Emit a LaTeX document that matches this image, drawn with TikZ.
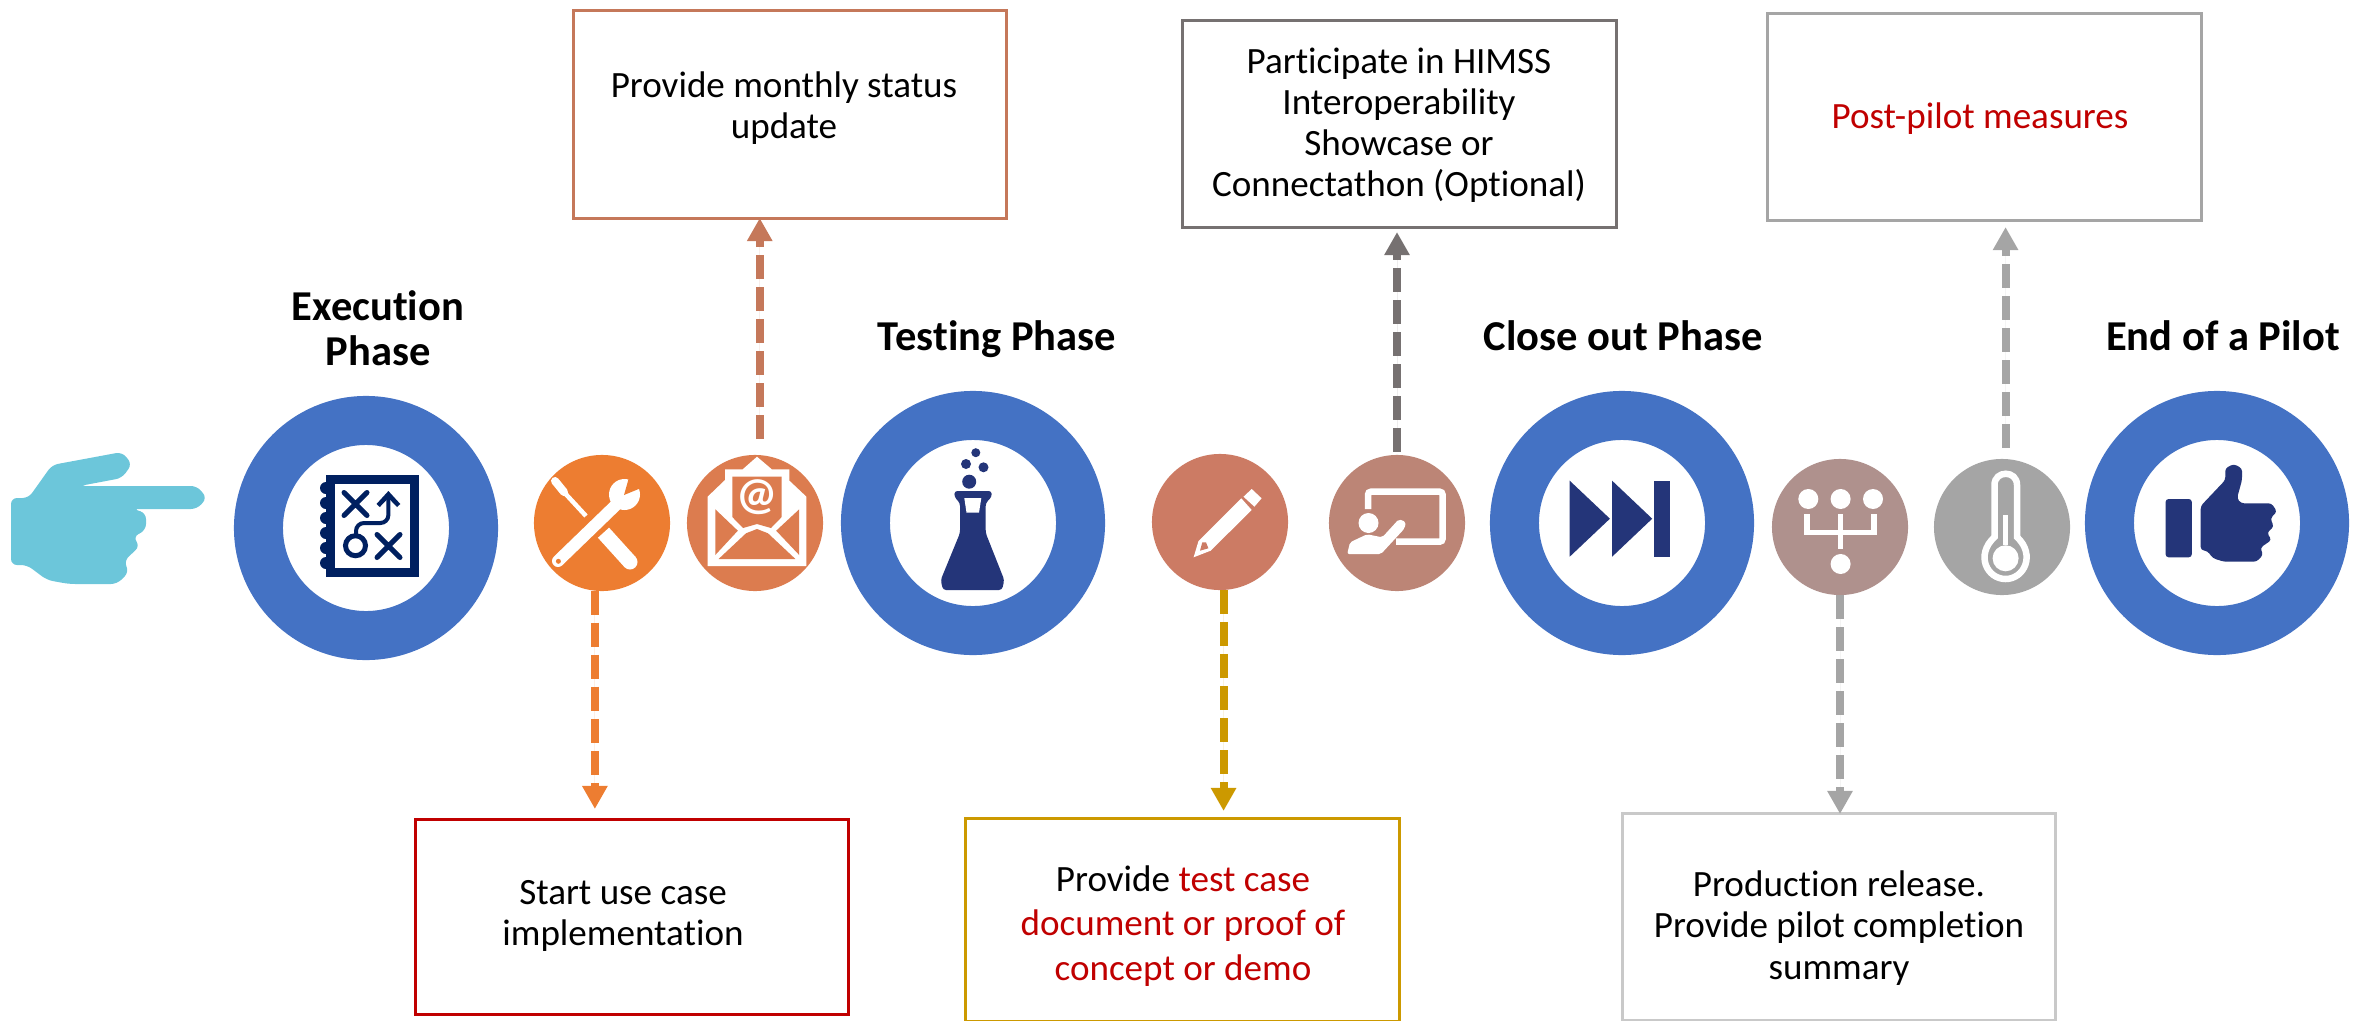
\documentclass[tikz,border=0pt]{standalone}
\usepackage{fontspec}
\setmainfont[Ligatures=NoCommon]{Carlito}
\usetikzlibrary{arrows.meta}

\definecolor{ringblue}{HTML}{4472C4}
\definecolor{iconnavy}{HTML}{243579}
\definecolor{plannavy}{HTML}{002060}
\definecolor{handcyan}{HTML}{6CC6DA}
\definecolor{toolorange}{HTML}{ED7D31}
\definecolor{mailcopper}{HTML}{DC7C4F}
\definecolor{pencilrose}{HTML}{CC7B64}
\definecolor{boardrose}{HTML}{BC8576}
\definecolor{treerose}{HTML}{AF918D}
\definecolor{thermogray}{HTML}{A5A5A5}
\definecolor{copperline}{HTML}{C5785A}
\definecolor{slateline}{HTML}{767171}
\definecolor{darkred}{HTML}{C00000}
\definecolor{goldline}{HTML}{CC9900}
\definecolor{paleline}{HTML}{C9C9C9}

\tikzset{
    phasering/.style={circle, draw=ringblue, fill=white, line width=.49cm, minimum size=2.15cm, inner sep=0pt, outer sep=0pt},
    stepdot/.style={circle, minimum size=1.36cm, inner sep=0pt, outer sep=0pt},
    notebox/.style={draw, line width=.03cm, inner sep=0pt, outer sep=0pt},
    notetext/.style={align=center, font=\fontsize{10.55}{11.7}\selectfont},
    phasetitle/.style={align=center, font=\fontsize{12.1}{12.8}\selectfont\bfseries},
    dasharrow/.style={line width=.08cm, dash pattern=on .24cm off .08cm, -{Triangle[width=.24cm,length=.23cm]}}
}

\begin{document}
\begin{tikzpicture}[x=0.01cm,y=-0.01cm]
    \useasboundingbox (0,0) rectangle (2354,1021);

    % Pointing hand
    \fill[handcyan, rounded corners=.06cm] (11,498) -- (28.5,498) -- (52,465) -- (122,452) -- (132,464) -- (122,478) -- (79.5,486) -- (197,486) -- (207,498) -- (197,509) -- (133,509) -- (146,513) -- (146,530) -- (133,537) -- (140,546) -- (124,561) -- (129,572) -- (117,584) -- (69,584) -- (47,580) -- (27,565) -- (11,565) -- cycle;

    % Phase rings
    \node[phasering] (execring) at (366,528) {};
    \node[phasering] (testring) at (973,523) {};
    \node[phasering] (closering) at (1622,523) {};
    \node[phasering] (endring) at (2217,523) {};

    % Step circles
    \node[stepdot, fill=toolorange] (tools) at (602,523) {};
    \node[stepdot, fill=mailcopper] (mail) at (755,523) {};
    \node[stepdot, fill=pencilrose] (pencil) at (1220,522) {};
    \node[stepdot, fill=boardrose] (board) at (1397,523) {};
    \node[stepdot, fill=treerose] (tree) at (1840,527) {};
    \node[stepdot, fill=thermogray] (thermo) at (2002,527) {};

    % Phase titles
    \node[phasetitle] (exectitle) at (378,328) {Execution\\Phase};
    \node[phasetitle] (testtitle) at (997,339) {Testing Phase};
    \node[phasetitle] (closetitle) at (1623,336) {Close out Phase};
    \node[phasetitle] (endtitle) at (2223,336) {End of a Pilot};

    % Note boxes
    \node[notebox, draw=copperline, minimum width=4.32cm, minimum height=2.07cm] (statusbox) at (790,114.5) {};
    \node[notebox, draw=slateline, minimum width=4.33cm, minimum height=2.06cm] (himssbox) at (1399.5,124) {};
    \node[notebox, draw=thermogray, minimum width=4.33cm, minimum height=2.06cm] (measurebox) at (1984.5,117) {};
    \node[notebox, draw=darkred, minimum width=4.32cm, minimum height=1.94cm] (usecasebox) at (632,917) {};
    \node[notebox, draw=goldline, minimum width=4.33cm, minimum height=2.02cm] (testcasebox) at (1182.5,920) {};
    \node[notebox, draw=paleline, minimum width=4.32cm, minimum height=2.06cm] (releasebox) at (1839,917) {};

    % Note texts
    \node[notetext] (statustext) at (784,108) {Provide monthly status\\update};
    \node[notetext] (himsstext) at (1399,125) {Participate in HIMSS\\Interoperability\\Showcase or\\Connectathon (Optional)};
    \node[notetext, text=darkred] (measuretext) at (1980,119) {Post-pilot measures};
    \node[notetext] (usecasetext) at (623,916) {Start use case\\implementation};
    \node[notetext, text=darkred, font=\fontsize{10.55}{12.6}\selectfont] (testcasetext) at (1183,926) {\textcolor{black}{Provide} test case\\document or proof of\\concept or demo};
    \node[notetext] (releasetext) at (1839,928) {Production release.\\Provide pilot completion\\summary};

    % Dashed connectors
    \draw[dasharrow, draw=toolorange, fill=toolorange, shorten >=.11cm] (tools.264) -- (tools.264 |- usecasebox.north);
    \draw[dasharrow, draw=copperline, fill=copperline, shorten <=.16cm] (mail.86) -- (mail.86 |- statusbox.south);
    \draw[dasharrow, draw=goldline, fill=goldline, shorten >=.08cm] (pencil.273) -- (pencil.273 |- testcasebox.north);
    \draw[dasharrow, draw=slateline, fill=slateline, shorten <=.03cm, shorten >=.05cm] (board.north) -- (board.north |- himssbox.south);
    \draw[dasharrow, draw=thermogray, fill=thermogray] (tree.south) -- (tree.south |- releasebox.north);
    \draw[dasharrow, draw=thermogray, fill=thermogray, shorten <=.11cm, shorten >=.07cm] (thermo.87) -- (thermo.87 |- measurebox.south);

    % Plan icon
    \draw[plannavy, line width=.09cm] (330.5,479) rectangle (414,572);
    \foreach \y in {488,503,518,533,548,563} {
        \fill[plannavy] (326,\y) circle [radius=6];
    }
    \draw[plannavy, line width=.05cm, line cap=round] (344,492.5) -- (367,515.5) (367,492.5) -- (344,515.5);
    \draw[plannavy, line width=.05cm, line cap=round] (377,534.5) -- (400,557.5) (400,534.5) -- (377,557.5);
    \draw[plannavy, line width=.04cm, rounded corners=.08cm] (388.4,495) -- (388.4,523) -- (356,523) -- (356,535);
    \fill[plannavy] (376.5,504) -- (388.4,491) -- (400.3,504) -- (397,507) -- (388.4,498) -- (379.8,507) -- cycle;
    \draw[plannavy, line width=.05cm] (355.5,545.7) circle [radius=10];

    % Tools icon
    \begin{scope}[white]
        \draw[line width=.12cm, line cap=round] (558,561) -- (618,503);
        \fill (624.5,494.5) circle [radius=15.5];
        \fill[toolorange] (624,495) -- (630,474) -- (646,486) -- cycle;
        \fill[toolorange] (558.4,561.3) circle [radius=2.5];
        \draw[line width=.08cm, line cap=round] (555,481) -- (564,492);
        \draw[line width=.045cm] (562,490) -- (586,516);
        \draw[line width=.15cm] (603.5,532.7) -- (630,562);
        \fill (630,562) circle [radius=7.5];
    \end{scope}

    % Mail icon
    \fill[white] (707.6,566) -- (806.4,566) -- (806.4,496.7) -- (789.4,480.7) -- (789.4,469.3) -- (771.8,469.3) -- (757,456.7) -- (742.7,469.3) -- (725,469.3) -- (725,480) -- (707.6,496.7) -- cycle;
    \fill[mailcopper] (732.3,476.7) -- (781.7,476.7) -- (781.7,517) -- (771,528) -- (757,524) -- (743,528) -- (732.3,517) -- cycle;
    \fill[mailcopper] (715.3,509.3) -- (737.8,530.7) -- (715.3,555) -- cycle;
    \fill[mailcopper] (799.2,509.3) -- (776.2,530.7) -- (799.2,555) -- cycle;
    \fill[mailcopper] (718.6,559) -- (795.4,559) -- (768,533.3) -- (757,529) -- (746,533.3) -- cycle;
    \node[text=white, font=\fontsize{13}{14}\selectfont\bfseries] (mailsign) at (757,497) {@};

    % Flask icon
    \foreach \x/\y/\r in {975.8/452.7/4.5, 966/464/5, 983.5/467.3/5, 969.2/481.7/7} {
        \fill[iconnavy] (\x,\y) circle [radius=\r];
    }
    \fill[iconnavy, rounded corners=.03cm] (954.4,491) -- (991.7,491) -- (991.7,497) -- (985.7,503) -- (985.7,533) -- (1004.3,580) -- (1002,590) -- (943,590) -- (940.7,580) -- (960,533) -- (960,503) -- (954.4,497) -- cycle;
    \fill[white] (964.3,498) -- (981.3,498) -- (979,512.7) -- (966.5,512.7) -- cycle;

    % Pencil icon
    \fill[white] (1193.6,557.3) -- (1198.5,541) -- (1241.3,498.3) -- (1251.7,510) -- (1210.6,550.7) -- cycle;
    \fill[white] (1243.5,496.7) -- (1251.7,489) -- (1261.6,498.3) -- (1254.4,506.7) -- cycle;
    \fill[pencilrose] (1200,550.7) -- (1202.3,542.3) -- (1206,542.3) -- (1208.4,548.3) -- cycle;

    % Board icon
    \draw[white, line width=.065cm, rounded corners=.03cm] (1368,509) -- (1368,491.7) -- (1442.6,491.7) -- (1442.6,541.7) -- (1396,541.7);
    \fill[white] (1368.5,523) circle [radius=10];
    \fill[white, rounded corners=.02cm] (1347.2,554) -- (1350,542.3) -- (1367,534.3) -- (1382.3,537.3) -- (1398.7,519.3) -- (1405.8,521.7) -- (1404.7,528.3) -- (1381,554) -- cycle;

    % Skip icon
    \fill[iconnavy] (1569.7,480.7) -- (1609.9,518.7) -- (1569.7,556.7) -- cycle;
    \fill[iconnavy] (1612.1,480.7) -- (1652.2,518.7) -- (1612.1,556.7) -- cycle;
    \fill[iconnavy] (1653.9,480.7) rectangle (1670,556.7);

    % Tree icon
    \foreach \x in {1808.3,1840.6,1873} {
        \fill[white] (\x,499) circle [radius=10];
    }
    \fill[white] (1840.6,564) circle [radius=10];
    \draw[white, line width=.055cm] (1807,514) -- (1807,532.3) -- (1874,532.3) -- (1874,514);
    \draw[white, line width=.055cm] (1840.6,514) -- (1840.6,549);

    % Thermometer icon
    \draw[white, line width=.065cm] (1994.5,537) -- (1994.5,485) .. controls (1994.5,470) and (2017,470) .. (2017,485) -- (2017,537) .. controls (2036,555) and (2024,579) .. (2005.6,579) .. controls (1987,579) and (1975,555) .. (1994.5,537) -- cycle;
    \fill[white] (2005.6,558.3) circle [radius=13];
    \draw[white, line width=.05cm] (2005.6,515) -- (2005.6,545);

    % Thumb icon
    \fill[iconnavy, rounded corners=.03cm] (2165.6,499) -- (2191.8,499) -- (2191.8,557.3) -- (2165.6,557.3) -- cycle;
    \fill[iconnavy, rounded corners=.03cm] (2200.7,506) -- (2225.3,480) -- (2225.3,468.3) -- (2233.6,464) -- (2242,468.3) -- (2242,480) -- (2237,498.3) -- (2241,503.3) -- (2271.5,503.3) -- (2277,511.7) -- (2270.4,518.3) -- (2273.8,526.7) -- (2267,532.7) -- (2271.5,540) -- (2260.4,547.7) -- (2263,555) -- (2256.5,561.7) -- (2224,561.7) -- (2213,558.3) -- (2207.4,551) -- (2200.7,550) -- cycle;
\end{tikzpicture}
\end{document}
